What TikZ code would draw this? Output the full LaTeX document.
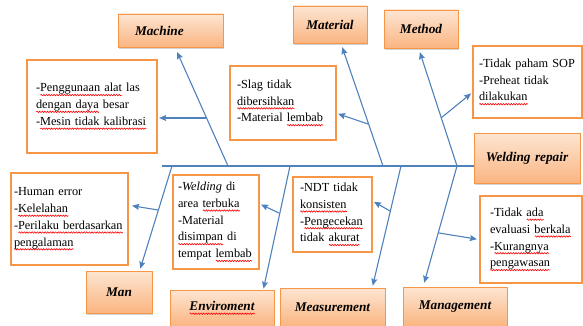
\documentclass[tikz,border=0pt]{standalone}
\usepackage{fontspec}
\setmainfont{Liberation Serif}
\usepackage{xcolor}
\usepackage{tikz}
\usetikzlibrary{shadows,arrows.meta,decorations.pathmorphing}
\newdimen\splwd
\newcommand\spl[1]{\setbox0\hbox{#1}\splwd=\wd0\leavevmode\rlap{\tikz[baseline=0pt,x=1pt,y=1pt]\draw[red,line width=0.6pt,decorate,decoration={snake,amplitude=0.7pt,segment length=2.6pt}] (0,-3.2) -- (\splwd,-3.2);}\box0\relax}
\definecolor{boneblue}{HTML}{4F81BD}
\definecolor{boxorange}{HTML}{F79646}
\definecolor{peachtop}{HTML}{FDE5D2}
\definecolor{peachbot}{HTML}{FAB581}
\tikzstyle{none}=[inner sep=0pt]
\tikzstyle{category}=[rectangle,draw=boxorange,line width=0.800,top color=peachtop,bottom color=peachbot,drop shadow={shadow xshift=1.2pt,shadow yshift=-1.8pt,opacity=0.35},font=\fontsize{13.3}{16}\selectfont\bfseries\itshape,inner sep=0pt]
\tikzstyle{cause}=[rectangle,fill=white,draw=boxorange,line width=2.200,align=left,font=\fontsize{12.3}{16.8}\selectfont,inner ysep=0pt]
\tikzstyle{spine}=[-,draw=boneblue,line width=1.100]
\tikzstyle{bone}=[->,>={Stealth[length=7pt,width=6pt,inset=1pt]},draw=boneblue,line width=1.100]
\pgfdeclarelayer{edgelayer}
\pgfdeclarelayer{nodelayer}
\pgfsetlayers{edgelayer,nodelayer,main}
\begin{document}
\begin{tikzpicture}[x=1pt,y=-1pt]
	\useasboundingbox (0,0) rectangle (583,326);
	\begin{pgfonlayer}{nodelayer}
		\node [style=category, minimum height=50, text width=106, align=center] (Welding) at (527, 158) {Welding repair};
		\node [style=category, minimum height=33, text width=71, inner xsep=17, align=left] (Machine) at (170.5, 30.5) {Machine};
		\node [style=category, minimum width=74, minimum height=37] (Material) at (330, 24.5) {Material};
		\node [style=category, minimum width=74, minimum height=38] (Method) at (421, 29) {Method};
		\node [style=category, minimum width=66, minimum height=42] (Man) at (119, 292) {Man};
		\node [style=category, minimum width=104, minimum height=36] (Enviroment) at (222, 308) {\spl{Enviroment}};
		\node [style=category, minimum width=105, minimum height=38] (Measurement) at (332.5, 307) {Measurement};
		\node [style=category, minimum width=104, minimum height=39] (Management) at (455, 306.5) {Management};
		\node [style=cause, text width=112, inner xsep=9, minimum height=93] (MachineCause) at (92, 106.5) {-\spl{Penggunaan alat} las\\\spl{dengan daya} besar\\-\spl{Mesin tidak kalibrasi}};
		\node [style=cause, text width=92, inner xsep=7, minimum height=74] (MaterialCause) at (283, 103) {-Slag tidak\\\spl{dibersihkan}\\-Material \spl{lembab}};
		\node [style=cause, text width=97, inner xsep=6, minimum height=72] (MethodCause) at (527.5, 82) {-Tidak paham SOP\\-Preheat tidak\\\spl{dilakukan}\\[6pt]};
		\node [style=cause, text width=111, inner xsep=3, minimum height=92] (ManCause) at (69.5, 219) {-Human error\\-\spl{Kelelahan}\\-\spl{Perilaku berdasarkan}\\\spl{pengalaman}};
		\node [style=cause, text width=76, inner xsep=5, minimum height=94] (EnvCause) at (216, 222) {-\textit{Welding} di\\area \spl{terbuka}\\-Material\\\spl{disimpan} di\\tempat \spl{lembab}};
		\node [style=cause, text width=65, inner xsep=7, minimum height=75] (MeasCause) at (332.5, 214.5) {-NDT tidak\\\spl{konsisten}\\-\spl{Pengecekan}\\tidak \spl{akurat}};
		\node [style=cause, text width=82, inner xsep=10, minimum height=87] (MgmtCause) at (531, 239.5) {-Tidak \spl{ada}\\evaluasi \spl{berkala}\\-\spl{Kurangnya}\\\spl{pengawasan}};
		\node [style=none] (tail) at (162, 166) {};
		\node [style=none] (jMan) at (172, 166) {};
		\node [style=none] (jMachine) at (228, 166) {};
		\node [style=none] (jEnv) at (290, 166) {};
		\node [style=none] (jMaterial) at (383, 166) {};
		\node [style=none] (jMeas) at (401, 166) {};
		\node [style=none] (jMethod) at (457, 166) {};
		\node [style=none] (sMachine) at (206, 118) {};
		\node [style=none] (sMaterial) at (368, 124) {};
		\node [style=none] (sMethod) at (441, 118) {};
		\node [style=none] (sMan) at (158, 210) {};
		\node [style=none] (sEnv) at (279, 213) {};
		\node [style=none] (sMeas) at (390, 211) {};
		\node [style=none] (sMgmt) at (439, 233) {};
	\end{pgfonlayer}
	\begin{pgfonlayer}{edgelayer}
		\draw [style=spine] (tail.center) to (tail.center -| Welding.west);
		\draw [style=bone, shorten >=5pt] (jMachine.center) to (Machine.-75);
		\draw [style=bone, shorten >=4pt] (jMaterial.center) to (Material.-60);
		\draw [style=bone, shorten >=4pt] (jMethod.center) to (Method.-97);
		\draw [style=bone, shorten >=2pt] (jMan.center) to (Man.46);
		\draw [style=bone, shorten >=1pt] (jEnv.center) to (Enviroment.24);
		\draw [style=bone, shorten >=2pt] (jMeas.center) to (Measurement.26);
		\draw [style=bone, shorten >=4pt] (jMethod.center) to (Management.148);
		\draw [style=bone, shorten >=1pt] (sMachine.center) to (sMachine.center -| MachineCause.east);
		\draw [style=bone, shorten >=1pt] (sMaterial.center) to (MaterialCause.-11);
		\draw [style=bone, shorten >=1pt] (sMethod.center) to (MethodCause.191);
		\draw [style=bone, shorten >=3pt] (sMan.center) to (ManCause.13);
		\draw [style=bone, shorten >=1pt] (sEnv.center) to (EnvCause.22);
		\draw [style=bone, shorten >=1pt] (sMeas.center) to (MeasCause.18);
		\draw [style=bone, shorten >=2pt] (sMgmt.center) to (MgmtCause.west);
	\end{pgfonlayer}
\end{tikzpicture}
\end{document}
